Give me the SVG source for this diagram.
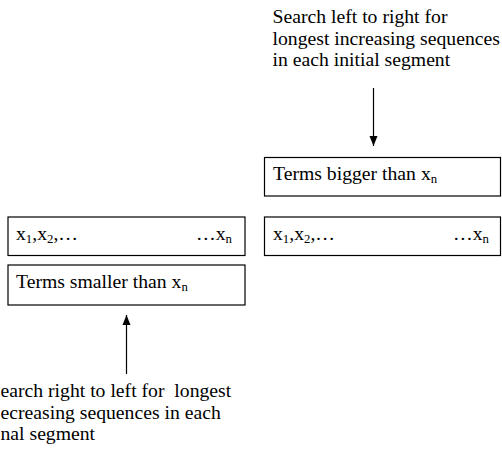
<svg xmlns="http://www.w3.org/2000/svg" width="502" height="454" viewBox="0 0 502 454">
<style>
text{font-family:"Liberation Serif","Times New Roman",serif;font-size:19.7px;fill:#000}
.sub{font-size:12.8px}
.pre{white-space:pre}
.box{fill:#fff;stroke:#000;stroke-width:1.2}
.conn{stroke:#000;stroke-width:1.2;fill:none}
</style>
<defs>
<marker id="ah" markerUnits="userSpaceOnUse" markerWidth="10" markerHeight="10" viewBox="0 0 10 8" refX="10" refY="4" orient="auto">
<path d="M0,0 L10,4 L0,8 Z" fill="#000"/>
</marker>
</defs>
<rect width="502" height="454" fill="#fff"/>
<g id="label-top">
<text x="272.5" y="23">Search left to right for</text>
<text x="272.5" y="44.5">longest increasing sequences</text>
<text x="272.5" y="66">in each initial segment</text>
</g>
<g id="label-bottom">
<text class="pre" x="0.5" y="397" xml:space="preserve">earch right to left for  longest</text>
<text x="0.5" y="418.5">ecreasing sequences in each</text>
<text x="0.5" y="440">nal segment</text>
</g>
<g id="box-bigger">
<rect class="box" x="264.5" y="157.5" width="236" height="38.5"/>
<text x="273" y="180">Terms bigger than x<tspan class="sub" dy="3">n</tspan></text>
</g>
<g id="box-right-seq">
<rect class="box" x="264.5" y="217" width="236" height="38.5"/>
<text x="273" y="240">x<tspan class="sub" dy="3">1</tspan><tspan dy="-3">,x</tspan><tspan class="sub" dy="3">2</tspan><tspan dy="-3">,…</tspan></text>
<text x="489" y="240" text-anchor="end">…x<tspan class="sub" dy="3">n</tspan></text>
</g>
<g id="box-left-seq">
<rect class="box" x="8" y="217" width="237" height="38.5"/>
<text x="16" y="240">x<tspan class="sub" dy="3">1</tspan><tspan dy="-3">,x</tspan><tspan class="sub" dy="3">2</tspan><tspan dy="-3">,…</tspan></text>
<text x="232" y="240" text-anchor="end">…x<tspan class="sub" dy="3">n</tspan></text>
</g>
<g id="box-smaller">
<rect class="box" x="8" y="265" width="237" height="40"/>
<text x="16" y="288">Terms smaller than x<tspan class="sub" dy="3">n</tspan></text>
</g>
<g id="connectors">
<line class="conn" x1="373.5" y1="88" x2="373.5" y2="146" marker-end="url(#ah)"/>
<line class="conn" x1="126.5" y1="374" x2="126.5" y2="315" marker-end="url(#ah)"/>
</g>
</svg>
